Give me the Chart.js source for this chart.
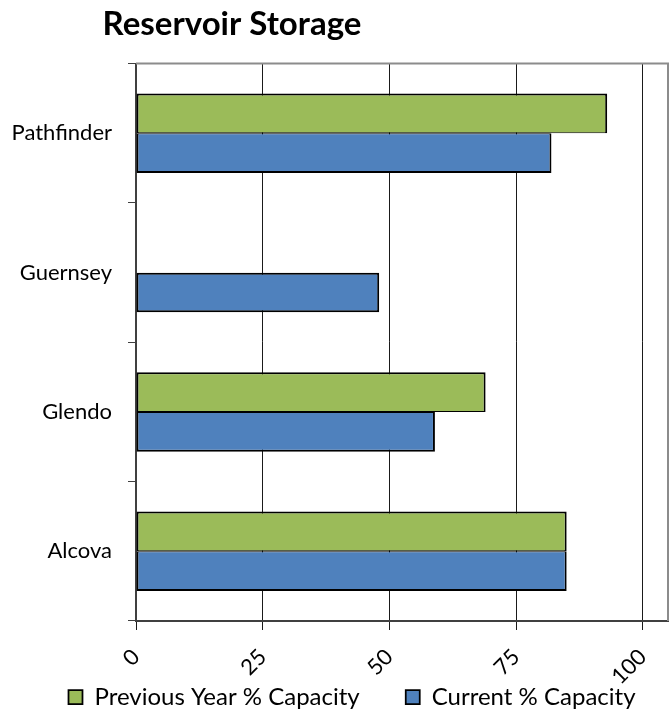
<!DOCTYPE html>
<html>
<head>
<meta charset="utf-8">
<title>Reservoir Storage</title>
<script src="https://cdn.jsdelivr.net/npm/chart.js@4.4.1/dist/chart.umd.min.js"></script>
<style>
  html, body { margin: 0; padding: 0; background: #fff; }
  #wrap { width: 671px; height: 712px; position: relative; }
</style>
</head>
<body>
<div id="wrap"><canvas id="storageChart"></canvas></div>
<script>
'use strict';

/* ── DATA ─────────────────────────────────────────────── */
const reservoirs   = ['Pathfinder', 'Guernsey', 'Glendo', 'Alcova'];
const previousYear = [93, null, 69, 85];
const currentPct   = [82, 48, 59, 85];
const xTickValues  = [0, 25, 50, 75, 100];

const GREEN = '#9BBB59';
const BLUE  = '#4F81BD';

Chart.defaults.font.family = 'Lato, "Open Sans", sans-serif';
Chart.defaults.color = '#000';

/* gray frame on top + right of the plot area */
const plotFrame = {
  id: 'plotFrame',
  afterDraw(chart) {
    const { ctx, chartArea: a } = chart;
    ctx.save();
    ctx.strokeStyle = '#8c8c8c';
    ctx.lineWidth = 2;
    ctx.beginPath();
    ctx.moveTo(a.left, a.top);
    ctx.lineTo(a.right, a.top);
    ctx.lineTo(a.right, a.bottom);
    ctx.stroke();
    ctx.restore();
  }
};

/* title and legend are not centred on the canvas in the original;
   x axis box is stretched down so its rotated labels are not clipped */
const nudgeBoxes = {
  id: 'nudgeBoxes',
  afterLayout(chart) {
    const t = chart.titleBlock;
    if (t) { t.left -= 102; t.right -= 102; }
    const l = chart.legend;
    if (l) { l.left += 18; l.right += 18; l.top += 7; l.bottom += 7; }
    const x = chart.scales.x;
    if (x) { x.bottom = chart.height; }
  }
};

new Chart(document.getElementById('storageChart'), {
  type: 'bar',
  data: {
    labels: reservoirs,
    datasets: [
      {
        label: 'Previous Year % Capacity',
        data: previousYear,
        backgroundColor: GREEN,
        borderColor: '#000',
        borderWidth: { top: 2, left: 2, right: 2, bottom: 1 },
        borderSkipped: false,
      },
      {
        label: 'Current % Capacity',
        data: currentPct,
        backgroundColor: BLUE,
        borderColor: '#000',
        borderWidth: ctx => ({
          top: previousYear[ctx.dataIndex] == null ? 2 : 1,
          left: 2, right: 2, bottom: 2
        }),
        borderSkipped: false,
      }
    ]
  },
  options: {
    indexAxis: 'y',
    responsive: true,
    maintainAspectRatio: false,
    animation: false,
    categoryPercentage: 0.57,
    barPercentage: 1.0,
    layout: { padding: { right: 3 } },
    plugins: {
      title: {
        display: true,
        text: 'Reservoir Storage',
        font: { size: 33, weight: 'bold' },
        color: '#000',
        padding: { top: 5, bottom: 19 },
      },
      legend: {
        position: 'bottom',
        labels: {
          font: { size: 24 },
          boxWidth: 14,
          boxHeight: 14,
          padding: 46,
          color: '#000',
        }
      },
      tooltip: { enabled: false },
    },
    scales: {
      x: {
        min: 0,
        max: 105,
        afterBuildTicks: scale => {
          scale.ticks = xTickValues.map(v => ({ value: v }));
        },
        afterFit: scale => {
          scale.height = 11;
          scale.paddingLeft = 0;
          scale.paddingRight = 0;
        },
        ticks: {
          font: { size: 22 },
          minRotation: 45,
          maxRotation: 45,
          padding: 14,
          autoSkip: false,
        },
        grid: { color: '#1a1a1a', lineWidth: 1, tickLength: 9 },
        border: { display: true, color: '#404040', width: 2 },
      },
      y: {
        afterFit: scale => { scale.width = 136; },
        ticks: { font: { size: 22 }, padding: 16 },
        grid: { drawOnChartArea: false, drawTicks: true, tickLength: 8, color: '#404040', lineWidth: 1 },
        border: { display: true, color: '#404040', width: 2 },
      }
    }
  },
  plugins: [plotFrame, nudgeBoxes]
});
</script>
</body>
</html>
